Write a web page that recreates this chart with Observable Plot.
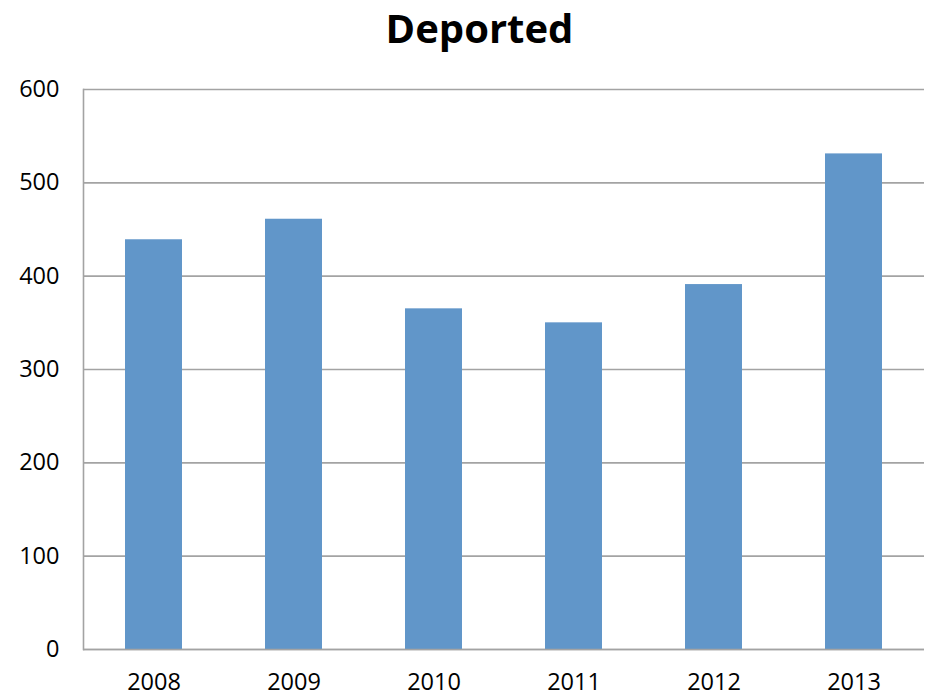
<!DOCTYPE html>
<html>
<head>
<meta charset="utf-8">
<script src="https://cdn.jsdelivr.net/npm/d3@7"></script>
<script src="https://cdn.jsdelivr.net/npm/@observablehq/plot@0.6"></script>
<style>
  body { margin: 0; background: #fff; }
  #wrap { position: relative; width: 926px; height: 697px; }
  #title { position: absolute; left: 33px; right: 0; top: 0; height: 60px; text-align: center;
    font-family: "Open Sans", sans-serif; font-weight: bold; font-size: 40px; line-height: 56px; color: #000; }
  #chart { position: absolute; left: 0; top: 60px; }
</style>
</head>
<body>
<div id="wrap">
  <div id="title">Deported</div>
  <div id="chart"></div>
</div>
<script>
const years = ["2008", "2009", "2010", "2011", "2012", "2013"];
const deported = [439, 461, 365, 350, 391, 531];
const yTicks = [0, 100, 200, 300, 400, 500, 600];

const data = years.map((y, i) => ({year: y, value: deported[i]}));

const chart = Plot.plot({
  width: 926,
  height: 637,
  marginTop: 29,
  marginBottom: 48,
  marginLeft: 83,
  marginRight: 2,
  style: {fontFamily: "'Open Sans', sans-serif", fontSize: "23.5px", color: "#000", background: "#fff"},
  x: {domain: years, paddingInner: 0.595, paddingOuter: 0.2975, label: null, tickSize: 0, tickPadding: 24},
  y: {domain: [0, 600], ticks: yTicks, label: null, tickSize: 0, tickPadding: 24},
  marks: [
    Plot.ruleY(yTicks, {stroke: "#a3a3a3", strokeWidth: 1.6}),
    Plot.barY(data, {x: "year", y: "value", fill: "#6196c9"}),
    Plot.frame({anchor: "left", stroke: "#a3a3a3", strokeWidth: 1.6}),
    Plot.ruleY([0], {stroke: "#a3a3a3", strokeWidth: 1.6})
  ]
});
document.getElementById("chart").appendChild(chart);
</script>
</body>
</html>
